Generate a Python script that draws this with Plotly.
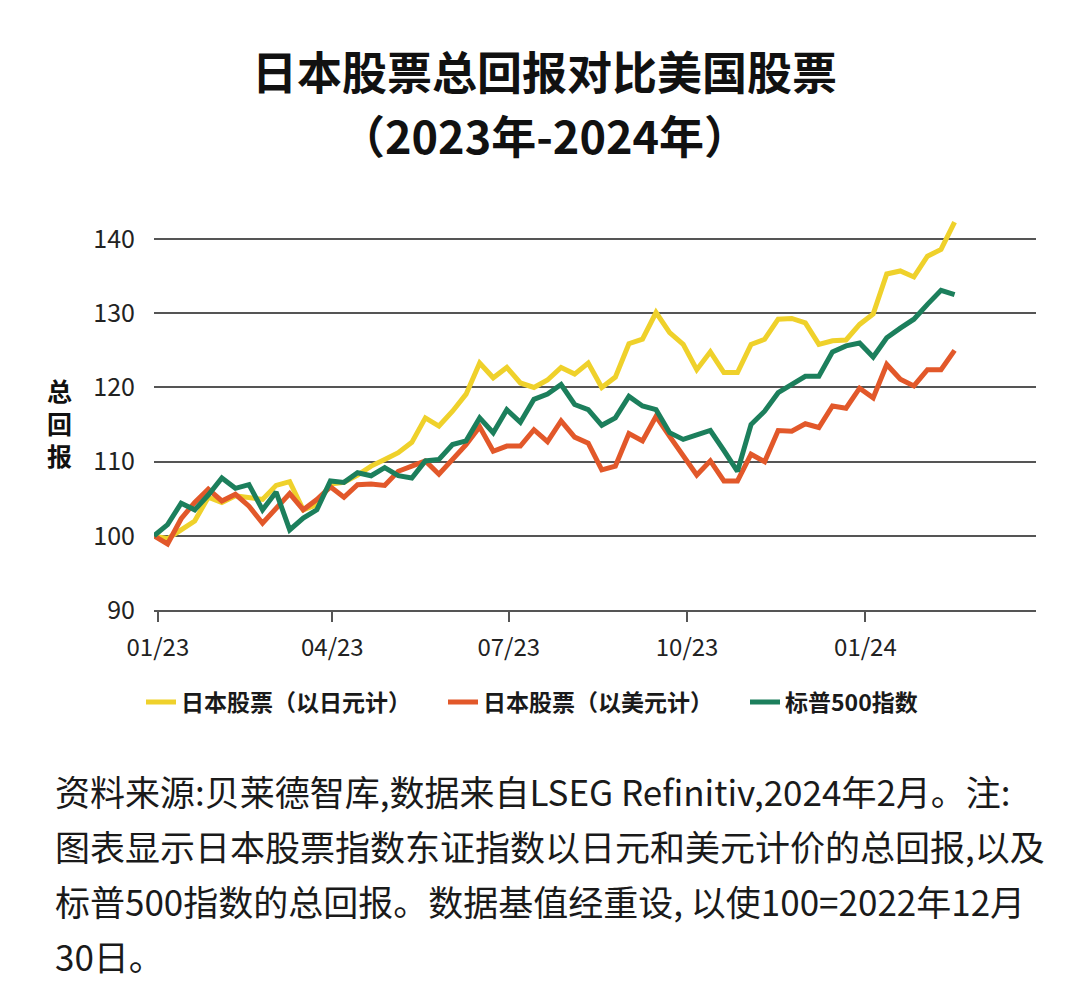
import pandas as pd
import plotly.graph_objects as go

# Weekly dates (Fridays) from 2022-12-30 to 2024-02-16
dates = pd.date_range("2022-12-30", periods=60, freq="7D")

jp_jpy = [100, 99.6, 100.8, 102.0, 105.2, 104.5, 105.4, 105.2, 104.9, 106.8,
          107.3, 103.5, 104.2, 107.0, 107.2, 108.2, 109.4, 110.3, 111.2, 112.6,
          115.9, 114.8, 116.8, 119.1, 123.3, 121.3, 122.7, 120.6, 120.0, 121.0,
          122.7, 121.8, 123.3, 120.0, 121.4, 125.9, 126.5, 130.1, 127.4, 125.8,
          122.4, 124.8, 122.0, 122.0, 125.8, 126.5, 129.2, 129.3, 128.7, 125.8,
          126.3, 126.4, 128.5, 129.9, 135.3, 135.7, 134.9, 137.7, 138.6, 142.3]

jp_usd = [100, 98.9, 102.3, 104.5, 106.3, 104.7, 105.6, 104.0, 101.7, 103.6,
          105.7, 103.5, 104.9, 106.6, 105.2, 106.9, 107.0, 106.8, 108.7, 109.4,
          110.1, 108.3, 110.3, 112.3, 114.7, 111.4, 112.1, 112.1, 114.3, 112.7,
          115.5, 113.3, 112.5, 108.9, 109.4, 113.8, 112.8, 116.1, 113.4, 110.9,
          108.2, 110.1, 107.4, 107.4, 111.0, 110.0, 114.2, 114.1, 115.1, 114.6,
          117.5, 117.2, 119.9, 118.6, 123.1, 121.1, 120.2, 122.4, 122.4, 125.0]

sp500 = [100, 101.5, 104.4, 103.5, 105.5, 107.8, 106.4, 106.9, 103.5, 105.9,
         100.8, 102.4, 103.5, 107.4, 107.2, 108.5, 108.1, 109.2, 108.1, 107.8,
         110.1, 110.3, 112.3, 112.8, 115.9, 113.9, 117.0, 115.3, 118.4, 119.1,
         120.4, 117.7, 117.0, 114.9, 115.9, 118.8, 117.5, 117.0, 113.9, 113.0,
         113.6, 114.2, 111.5, 108.7, 115.0, 116.8, 119.3, 120.4, 121.5, 121.5,
         124.8, 125.6, 126.0, 124.1, 126.7, 128.0, 129.2, 131.2, 133.1, 132.5]

series_names = ["日本股票（以日元计）", "日本股票（以美元计）", "标普500指数"]
series_colors = ["#EFD12B", "#E2582A", "#1C7F5C"]

tick_dates = ["2023-01-01", "2023-04-01", "2023-07-01", "2023-10-01", "2024-01-01"]
tick_labels = ["01/23", "04/23", "07/23", "10/23", "01/24"]
y_ticks = [90, 100, 110, 120, 130, 140]

title_lines = ["日本股票总回报对比美国股票", "（2023年-2024年）"]
y_title = "总<br>回<br>报"
footer_lines = [
    "资料来源:贝莱德智库,数据来自LSEG Refinitiv,2024年2月。注:",
    "图表显示日本股票指数东证指数以日元和美元计价的总回报,以及",
    "标普500指数的总回报。数据基值经重设, 以使100=2022年12月",
    "30日。",
]

FONT = "Noto Sans CJK SC, Noto Sans, sans-serif"
W, H = 1072, 983
ML, MR, MT, MB = 146, 44, 194, 381
PW, PH = W - ML - MR, H - MT - MB


def px_x(px):
    return (px - ML) / PW


def px_y(py):
    return (H - MB - py) / PH


fig = go.Figure()
for name, vals, col in zip(series_names, [jp_jpy, jp_usd, sp500], series_colors):
    fig.add_trace(go.Scatter(x=dates, y=vals, name=name, mode="lines",
                             line=dict(color=col, width=5, shape="linear")))

fig.update_layout(
    width=W, height=H,
    paper_bgcolor="white", plot_bgcolor="white",
    margin=dict(l=ML, r=MR, t=MT, b=MB, autoexpand=False),
    font=dict(family=FONT, color="#1a1a1a"),
    showlegend=True,
    legend=dict(orientation="h", xref="paper", yref="paper",
                x=px_x(133), xanchor="left", y=px_y(694), yanchor="middle",
                font=dict(size=23, family=FONT, weight="bold", color="#1a1a1a"),
                entrywidth=257, entrywidthmode="pixels",
                bgcolor="rgba(0,0,0,0)"),
    xaxis=dict(type="date", range=["2022-12-30", "2024-03-29"],
               tickvals=tick_dates, ticktext=tick_labels, automargin=False,
               showgrid=False, zeroline=False,
               showline=True, linecolor="#555555", linewidth=1.5,
               ticks="outside", ticklen=10, tickwidth=1.5, tickcolor="#555555",
               tickfont=dict(size=24, family=FONT, color="#222222"),
               ticklabelstandoff=5),
    yaxis=dict(range=[90, 145], tickvals=y_ticks, automargin=False,
               showgrid=True, gridcolor="#555555", gridwidth=1.5,
               zeroline=False, showline=False, ticks="",
               tickfont=dict(size=25, family=FONT, color="#222222"),
               ticklabelstandoff=18),
)

annotations = []
for txt, yy in zip(title_lines, [62, 127]):
    annotations.append(dict(text=f"<b>{txt}</b>", xref="paper", yref="paper",
                            x=px_x(W / 2), y=px_y(yy), xanchor="center", yanchor="middle",
                            showarrow=False, font=dict(size=45, family=FONT, color="#111111")))
annotations.append(dict(text=f"<b>{y_title}</b>", xref="paper", yref="paper",
                        x=px_x(51), y=px_y(414), xanchor="center", yanchor="middle",
                        showarrow=False, font=dict(size=25, family=FONT, color="#111111")))
for txt, yy in zip(footer_lines, [782, 837, 892, 947]):
    annotations.append(dict(text=txt, xref="paper", yref="paper",
                            x=px_x(45), y=px_y(yy), xanchor="left", yanchor="middle",
                            showarrow=False, font=dict(size=35, family=FONT, color="#1a1a1a")))
fig.update_layout(annotations=annotations)

fig.write_html("out.html")
